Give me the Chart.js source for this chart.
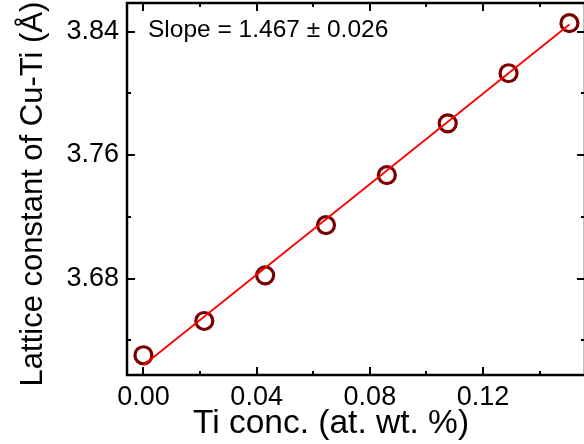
<!DOCTYPE html>
<html>
<head>
<meta charset="utf-8">
<script src="https://cdn.jsdelivr.net/npm/chart.js@4.4.1/dist/chart.umd.min.js"></script>
<style>
  html, body { margin: 0; padding: 0; background: #fff; overflow: hidden; }
  #wrap { width: 592px; height: 444px; }
</style>
</head>
<body>
<div id="wrap"><canvas id="grafico" width="592" height="444"></canvas></div>
<script>
// --- DADOS ---
const concTi = [0, 0.0215, 0.043, 0.0645, 0.086, 0.1075, 0.129, 0.1505];
const paramRede = [3.6303, 3.6525, 3.6821, 3.7146, 3.7470, 3.7805, 3.8130, 3.8454];

// ajuste linear (inclinação do rótulo)
const inclinacao = 1.467;
const erroInclinacao = 0.026;
const intercepto = 3.6238;
const ajusteX = [0, 0.1505];

// ticks dos eixos
const ticksX = [0, 0.02, 0.04, 0.06, 0.08, 0.10, 0.12, 0.14];
const ticksXMaiores = [0, 0.04, 0.08, 0.12];
const ticksY = [3.64, 3.68, 3.72, 3.76, 3.80, 3.84];
const ticksYMaiores = [3.68, 3.76, 3.84];

const tituloX = 'Ti conc. (at. wt. %)';
const tituloY = 'Lattice constant of Cu-Ti (Å)';

const FONTE = "'Liberation Sans', Arial, sans-serif";

const pontosAjuste = ajusteX.map(x => ({ x: x, y: intercepto + inclinacao * x }));
const pontosDados = concTi.map((x, i) => ({ x: x, y: paramRede[i] }));

const ehMaior = (lista, v) => lista.some(m => Math.abs(m - v) < 1e-9);

// moldura fechada com ticks para dentro, títulos dos eixos e texto da inclinação
const molduraPlugin = {
    id: 'moldura',
    afterDatasetsDraw(chart) {
        const { ctx, chartArea: a, scales: { x, y } } = chart;
        ctx.save();
        ctx.strokeStyle = '#000';
        ctx.lineWidth = 2.5;
        ctx.strokeRect(a.left, a.top, a.right - a.left, a.bottom - a.top);

        ctx.lineWidth = 2;
        ctx.beginPath();
        ticksX.forEach(v => {
            const px = Math.round(x.getPixelForValue(v));
            const len = ehMaior(ticksXMaiores, v) ? 8 : 4;
            ctx.moveTo(px, a.bottom); ctx.lineTo(px, a.bottom - len);
            ctx.moveTo(px, a.top); ctx.lineTo(px, a.top + len);
        });
        ticksY.forEach(v => {
            const py = Math.round(y.getPixelForValue(v));
            const len = ehMaior(ticksYMaiores, v) ? 8 : 4;
            ctx.moveTo(a.left, py); ctx.lineTo(a.left + len, py);
            ctx.moveTo(a.right, py); ctx.lineTo(a.right - len, py);
        });
        ctx.stroke();

        ctx.fillStyle = '#000';
        ctx.textBaseline = 'alphabetic';
        ctx.textAlign = 'left';
        ctx.font = '24.5px ' + FONTE;
        ctx.fillText('Slope = ' + inclinacao.toFixed(3) + ' ± ' + erroInclinacao.toFixed(3), 148, 37);

        ctx.textAlign = 'center';
        ctx.font = '33.5px ' + FONTE;
        ctx.fillText(tituloX, 331, 433);

        // título do eixo y, girado
        ctx.font = '31px ' + FONTE;
        ctx.translate(42, 194);
        ctx.rotate(-Math.PI / 2);
        ctx.fillText(tituloY, 0, 0);
        ctx.restore();
    }
};

new Chart(document.getElementById('grafico'), {
    type: 'scatter',
    data: {
        datasets: [
            {
                type: 'line',
                data: pontosAjuste,
                borderColor: '#ff0000',
                borderWidth: 1.8,
                pointRadius: 0,
                fill: false,
                order: 0
            },
            {
                data: pontosDados,
                pointStyle: 'circle',
                pointRadius: 8.5,
                pointBorderWidth: 3.2,
                pointBorderColor: '#7a0000',
                pointBackgroundColor: 'rgba(0,0,0,0)',
                order: 1
            }
        ]
    },
    options: {
        responsive: false,
        animation: false,
        devicePixelRatio: 1,
        layout: { autoPadding: false, padding: { top: 3, right: 7, left: 0, bottom: 0 } },
        plugins: { legend: { display: false }, tooltip: { enabled: false } },
        scales: {
            x: {
                type: 'linear',
                min: -0.0058,
                max: 0.156,
                grid: { display: false },
                border: { display: false },
                afterBuildTicks: s => { s.ticks = ticksX.map(v => ({ value: v })); },
                afterFit: s => {
                    s.height = 69;
                    s.paddingLeft = 0;
                    s.paddingRight = 0;
                },
                ticks: {
                    padding: -2,
                    color: '#000',
                    font: { family: FONTE, size: 27 },
                    callback: v => ehMaior(ticksXMaiores, v) ? v.toFixed(2) : ''
                }
            },
            y: {
                type: 'linear',
                min: 3.6175,
                max: 3.8585,
                grid: { display: false },
                border: { display: false },
                afterBuildTicks: s => { s.ticks = ticksY.map(v => ({ value: v })); },
                afterFit: s => {
                    s.width = 127;
                    s.paddingTop = 0;
                    s.paddingBottom = 0;
                },
                ticks: {
                    padding: 0,
                    color: '#000',
                    font: { family: FONTE, size: 27 },
                    callback: v => ehMaior(ticksYMaiores, v) ? v.toFixed(2) : ''
                }
            }
        }
    },
    plugins: [molduraPlugin]
});
</script>
</body>
</html>
